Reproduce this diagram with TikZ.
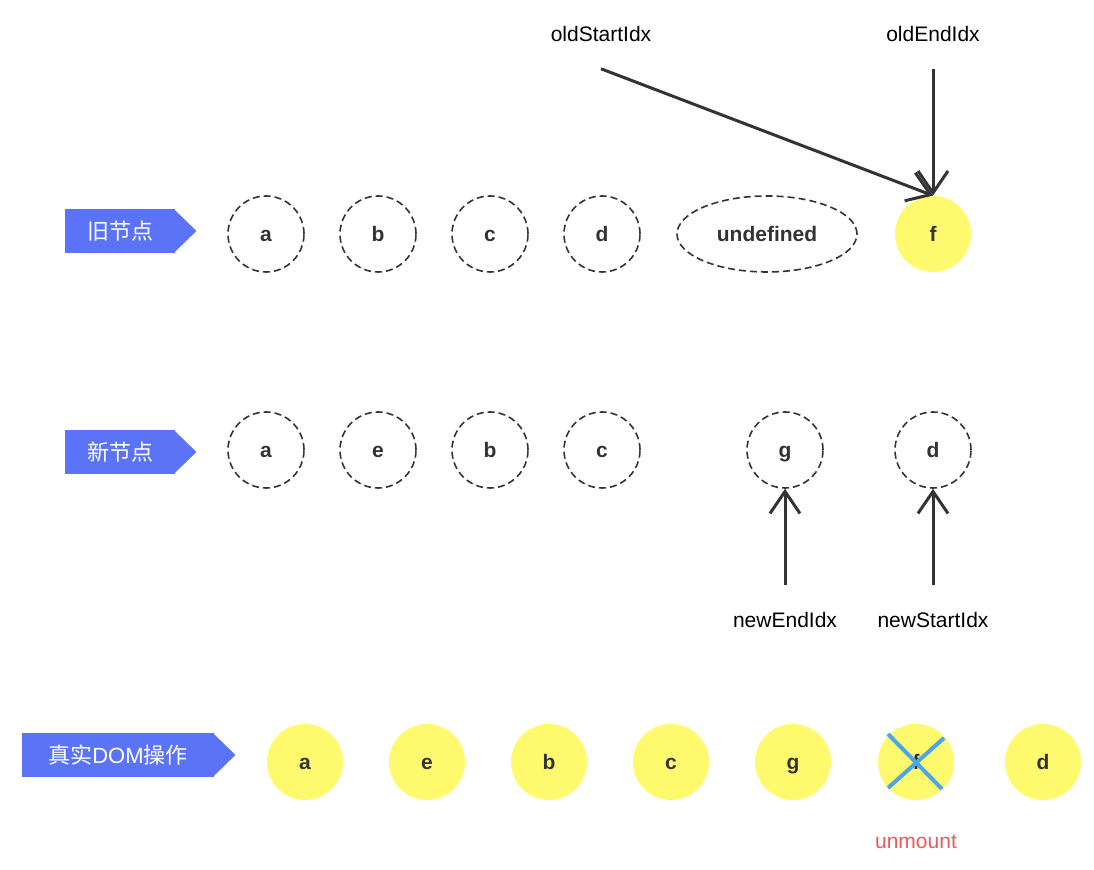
\documentclass[tikz,border=0pt]{standalone}
\usepackage{fontspec}
\setmainfont{Liberation Sans}
\newfontfamily\cjk{Noto Sans CJK SC}
\usetikzlibrary{shapes.geometric, arrows.meta}
\definecolor{tagblue}{RGB}{91,115,246}
\definecolor{ink}{RGB}{51,51,51}
\definecolor{vyellow}{RGB}{255,249,110}
\definecolor{crossblue}{RGB}{75,166,232}
\definecolor{warnred}{RGB}{232,90,90}

\begin{document}
\begin{tikzpicture}[x=0.5pt, y=-0.5pt,
    vnode/.style={circle, draw=ink, line width=0.8pt, dash pattern=on 3.5pt off 2pt, minimum size=38pt, inner sep=0pt, text=ink, text height=8pt, text depth=0pt, font=\fontsize{10.5}{12}\selectfont\bfseries},
    real/.style={circle, fill=vyellow, minimum size=38pt, inner sep=0pt, text=ink, text height=8pt, text depth=0pt, font=\fontsize{10.5}{12}\selectfont\bfseries},
    tag/.style={fill=tagblue, text=white, minimum height=22pt, inner sep=0pt, font=\cjk\fontsize{11}{13}\selectfont},
    idx/.style={text=black, font=\fontsize{10.5}{12}\selectfont},
    pointer/.style={draw=ink, line width=1.5pt, -{Straight Barb[length=11pt, width=15pt]}}]
\useasboundingbox (0,0) rectangle (1094,870);

% Old vnodes
\node[tag, minimum width=55pt] (tOld) at (120,231) {旧节点};
\fill[tagblue] ([xshift=-1pt]tOld.north east) -- ([xshift=10.5pt]tOld.east) -- ([xshift=-1pt]tOld.south east) -- cycle;
\foreach \x/\t [count=\i] in {266/a, 378/b, 490/c, 602/d} {
    \node[vnode] (o\i) at (\x,234) {\t};
}
\node[vnode, ellipse, minimum width=90pt] (o5) at (767,234) {undefined};
\node[real] (o6) at (933,234) {f};

% Old indices
\node[idx] (oldStart) at (601,34) {oldStartIdx};
\node[idx] (oldEnd) at (933,34) {oldEndIdx};
\draw[pointer] ([yshift=-10pt]oldStart.south) -- (o6.north);
\draw[pointer] ([yshift=-10pt]oldEnd.south) -- (o6.north);

% New vnodes
\node[tag, minimum width=55pt] (tNew) at (120,452) {新节点};
\fill[tagblue] ([xshift=-1pt]tNew.north east) -- ([xshift=10.5pt]tNew.east) -- ([xshift=-1pt]tNew.south east) -- cycle;
\foreach \x/\t [count=\i] in {266/a, 378/e, 490/b, 602/c, 785/g, 933/d} {
    \node[vnode] (n\i) at (\x,450) {\t};
}

% New indices
\node[idx] (newEnd) at (785,620) {newEndIdx};
\node[idx] (newStart) at (933,620) {newStartIdx};
\draw[pointer] ([yshift=10pt]newEnd.north) -- (n5.south);
\draw[pointer] ([yshift=10pt]newStart.north) -- (n6.south);

% Real DOM
\node[tag, minimum width=96pt] (tDom) at (118,755) {真实\rmfamily DOM\cjk 操作};
\fill[tagblue] ([xshift=-1pt]tDom.north east) -- ([xshift=10.5pt]tDom.east) -- ([xshift=-1pt]tDom.south east) -- cycle;
\foreach \x/\t [count=\i] in {305/a, 427/e, 549/b, 671/c, 793/g, 916/f, 1043/d} {
    \node[real] (d\i) at (\x,762) {\t};
}
\draw[crossblue, line width=2pt] ([shift={(-28,-28)}]d6.center) -- ([shift={(26,27)}]d6.center);
\draw[crossblue, line width=2pt] ([shift={(28,-24)}]d6.center) -- ([shift={(-28,26)}]d6.center);
\node[idx, text=warnred] (unmount) at (916,842) {unmount};
\end{tikzpicture}
\end{document}
